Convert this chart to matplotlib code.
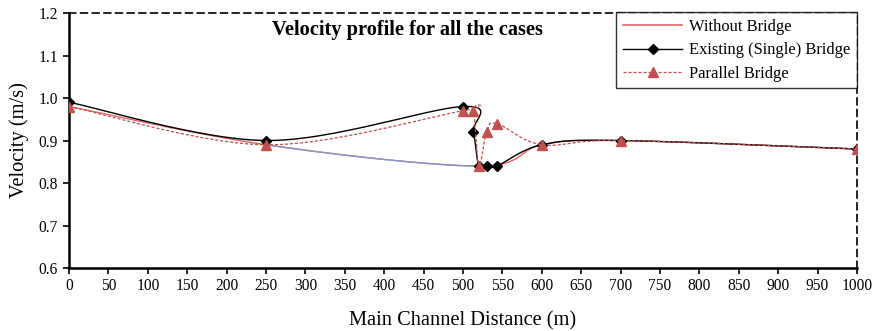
import numpy as np
import matplotlib
matplotlib.use("Agg")
import matplotlib.pyplot as plt
from matplotlib.lines import Line2D

plt.rcParams['font.family'] = ['Liberation Serif', 'DejaVu Serif']

# Data
x_without = [0, 250, 520, 600, 700, 1000]
v_without = [0.98, 0.89, 0.84, 0.89, 0.90, 0.88]

x_existing = [0, 250, 500, 513, 520, 530, 543, 600, 700, 1000]
v_existing = [0.99, 0.90, 0.98, 0.92, 0.84, 0.84, 0.84, 0.89, 0.90, 0.88]

x_parallel = [0, 250, 500, 513, 520, 530, 543, 600, 700, 1000]
v_parallel = [0.98, 0.89, 0.97, 0.97, 0.84, 0.92, 0.94, 0.89, 0.90, 0.88]

x_ticks = list(range(0, 1001, 50))
y_ticks = [0.6, 0.7, 0.8, 0.9, 1.0, 1.1, 1.2]


def smooth(xs, ys, n=30, t=0.5):
    """Excel-like smoothed line via Catmull-Rom Bezier segments."""
    xs = np.asarray(xs, float); ys = np.asarray(ys, float)
    px = np.concatenate([[xs[0]], xs, [xs[-1]]])
    py = np.concatenate([[ys[0]], ys, [ys[-1]]])
    ox, oy = [], []
    for i in range(1, len(px) - 2):
        p0 = np.array([px[i - 1], py[i - 1]]); p1 = np.array([px[i], py[i]])
        p2 = np.array([px[i + 1], py[i + 1]]); p3 = np.array([px[i + 2], py[i + 2]])
        c1 = p1 + (p2 - p0) * t / 3
        c2 = p2 - (p3 - p1) * t / 3
        s = np.linspace(0, 1, n)[:, None]
        pts = (1 - s) ** 3 * p1 + 3 * (1 - s) ** 2 * s * c1 + 3 * (1 - s) * s ** 2 * c2 + s ** 3 * p2
        ox.extend(pts[:, 0]); oy.extend(pts[:, 1])
    return np.array(ox), np.array(oy)


fig = plt.figure(figsize=(8.78, 3.31), dpi=100)
ax = fig.add_axes([0.0786, 0.1903, 0.8975, 0.7704])

red = '#C0504D'
# Without Bridge (drawn with blue tint in the middle span as in the reference)
sx, sy = smooth(x_without, v_without)
ax.plot(sx, sy, color='#E06666', lw=1.0, zorder=2)
mask = (sx >= x_without[1]) & (sx <= x_without[2])
ax.plot(sx[mask], sy[mask], color='#7F9CC8', lw=1.0, zorder=2)

# Existing
sx, sy = smooth(x_existing, v_existing)
ax.plot(sx, sy, color='black', lw=1.0, zorder=3)
ax.plot(x_existing, v_existing, 'D', color='black', ms=5, lw=0, zorder=4)

# Parallel
sx, sy = smooth(x_parallel, v_parallel)
ax.plot(sx, sy, color=red, lw=0.9, ls=(0, (2.5, 1.5)), zorder=5)
ax.plot(x_parallel, v_parallel, '^', color=red, ms=7, lw=0, zorder=6)

ax.set_xlim(0, 1000)
ax.set_ylim(0.6, 1.2)
ax.set_xticks(x_ticks)
ax.set_yticks(y_ticks)
ax.set_yticklabels([f"{v:.1f}" for v in y_ticks])
ax.tick_params(axis='both', direction='out', labelsize=11.2, length=4, width=1.2, colors='black')
ax.tick_params(axis='x', pad=3.5)
ax.tick_params(axis='y', pad=4)

for s in ['left', 'bottom']:
    ax.spines[s].set_linewidth(1.8)
for s in ['top', 'right']:
    ax.spines[s].set_linestyle((0, (4, 3)))
    ax.spines[s].set_linewidth(1.2)

ax.set_xlabel('Main Channel Distance (m)', fontsize=14.7, labelpad=12)
ax.set_ylabel('Velocity (m/s)', fontsize=14.7, labelpad=7)
ax.text(0.429, 0.933, 'Velocity profile for all the cases', transform=ax.transAxes,
        ha='center', va='center', fontsize=14.7, fontweight='bold')

handles = [
    Line2D([], [], color='#E06666', lw=1.2),
    Line2D([], [], color='black', lw=1.0, marker='D', ms=5),
    Line2D([], [], color=red, lw=0.9, ls=(0, (2.5, 1.5)), marker='^', ms=7),
]
labels = ['Without Bridge', 'Existing (Single) Bridge', 'Parallel Bridge']
leg = ax.legend(handles, labels, loc='upper right', bbox_to_anchor=(1.0, 1.003),
                fontsize=11.9, frameon=True, fancybox=False, edgecolor='black',
                handlelength=3.6, borderpad=0.4, labelspacing=0.45, handletextpad=0.4,
                borderaxespad=0.0)
leg.get_frame().set_linewidth(1.0)
leg.set_zorder(10)

fig.savefig('out.png', dpi=100)
